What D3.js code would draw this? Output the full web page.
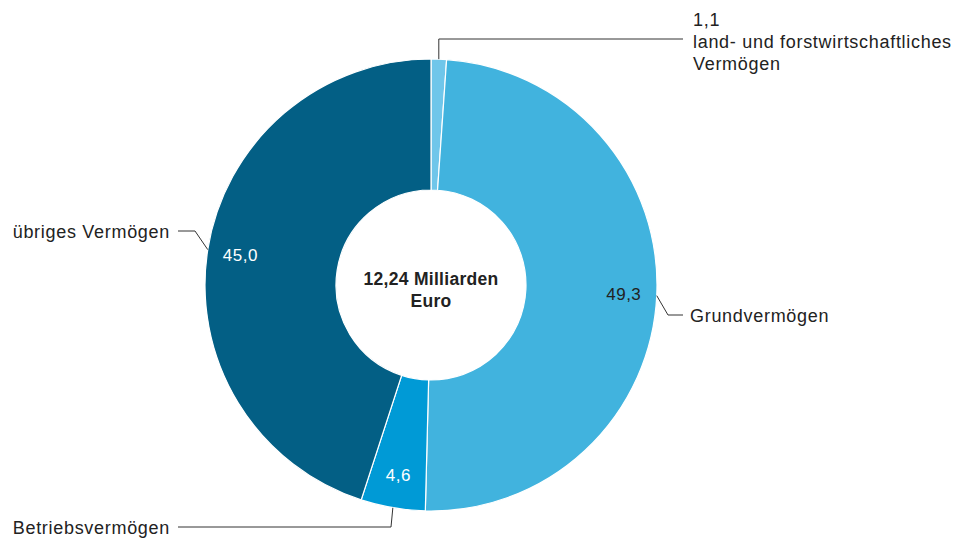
<!DOCTYPE html>
<html><head><meta charset="utf-8">
<script src="https://cdn.jsdelivr.net/npm/d3@7"></script>
<style>body{margin:0;background:#fff;} text{font-family:"Liberation Sans",Arial,sans-serif;}</style>
</head><body>
<svg id="c" width="957" height="538"></svg>
<script>
const categories = ["land- und forstwirtschaftliches Vermögen","Grundvermögen","Betriebsvermögen","übriges Vermögen"];
const values = [1.1, 49.3, 4.6, 45.0];
const valueLabels = ["1,1","49,3","4,6","45,0"];
const colors = ["#6fc6ea","#41b3de","#009ad6","#035f85"];
const labelColors = ["#222","#222","#fff","#fff"];
const centerLines = ["12,24 Milliarden","Euro"];

const svg = d3.select("#c");
const cx = 431, cy = 285, R = 226, r0 = 95;
const FS = 18, LS = 0.7;
const g = svg.append("g").attr("transform",`translate(${cx},${cy})`);
const data = categories.map((c,i)=>({c, v:values[i], l:valueLabels[i], col:colors[i], tc:labelColors[i]}));
const pie = d3.pie().value(d=>d.v).sort(null);
const arcs = pie(data);
const arc = d3.arc().innerRadius(r0).outerRadius(R);
g.selectAll("path").data(arcs).join("path").attr("d",arc).attr("fill",d=>d.data.col)
  .attr("stroke","#fff").attr("stroke-width",1.2);

const mid = d=>(d.startAngle+d.endAngle)/2;
const pt = (a,rr)=>[Math.sin(a)*rr, -Math.cos(a)*rr];

arcs.forEach((d,i)=>{
  if(i===0) return;
  const [x,y] = pt(mid(d),193);
  g.append("text").attr("x",x).attr("y",y).attr("text-anchor","middle").attr("dy","0.35em")
   .attr("font-size",17).attr("letter-spacing",0.5).attr("fill",d.data.tc).text(d.data.l);
});

const line = d3.line();
const lc = "#333";
function leader(points){
  svg.append("path").attr("d",line(points)).attr("fill","none").attr("stroke",lc).attr("stroke-width",1);
}
function label(x,y,anchor,txt){
  return svg.append("text").attr("x",x).attr("y",y).attr("text-anchor",anchor).attr("font-size",FS)
    .attr("letter-spacing",LS).attr("fill","#222").text(txt);
}
{
  const [x,y] = pt(mid(arcs[0]),R);
  leader([[cx+x,cy+y],[cx+x,39],[683,39]]);
  const t = svg.append("text").attr("font-size",FS).attr("letter-spacing",LS).attr("fill","#222");
  t.append("tspan").attr("x",693).attr("y",25.5).text(valueLabels[0]);
  t.append("tspan").attr("x",693).attr("y",47.5).text("land- und forstwirtschaftliches");
  t.append("tspan").attr("x",693).attr("y",69.5).text("Vermögen");
}
{
  const [x,y] = pt(mid(arcs[1]),R);
  leader([[cx+x,cy+y],[668,315],[683,315]]);
  label(690,321.5,"start",categories[1]);
}
{
  const [x,y] = pt(mid(arcs[2]),R);
  leader([[cx+x,cy+y],[391,527],[178,527]]);
  label(170,533.5,"end",categories[2]);
}
{
  const [x,y] = pt(mid(arcs[3]),R);
  leader([[cx+x,cy+y],[195,231],[178,231]]);
  label(170,238,"end",categories[3]);
}
g.append("text").attr("text-anchor","middle").attr("font-weight","bold").attr("font-size",17.5)
 .attr("letter-spacing",0.3).attr("fill","#222")
 .selectAll("tspan").data(centerLines).join("tspan").attr("x",0).attr("y",(d,i)=>0+i*21.5).text(d=>d);
</script>
</body></html>
